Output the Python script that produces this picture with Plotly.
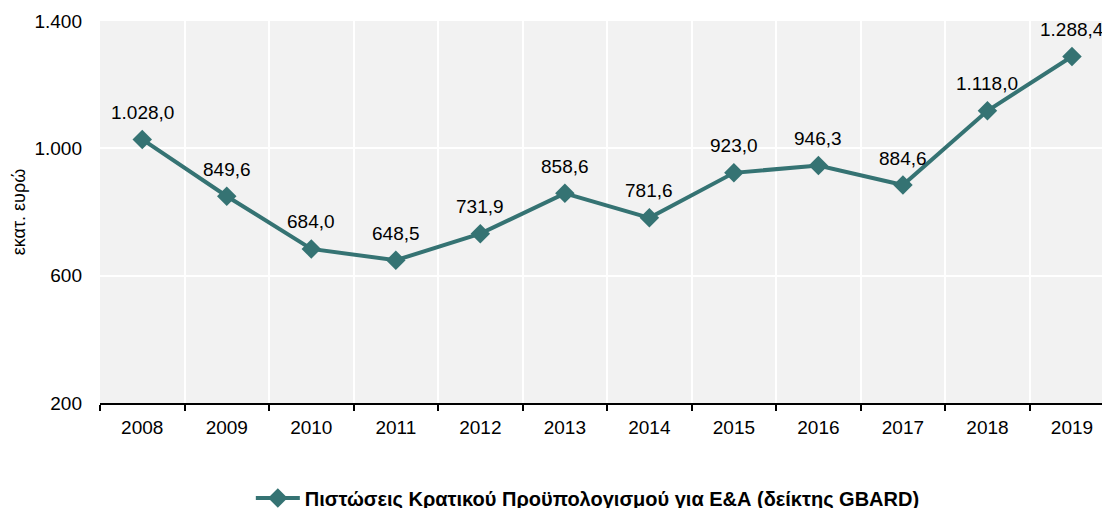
import plotly.graph_objects as go

years = ["2008", "2009", "2010", "2011", "2012", "2013", "2014", "2015", "2016", "2017", "2018", "2019"]
values = [1028.0, 849.6, 684.0, 648.5, 731.9, 858.6, 781.6, 923.0, 946.3, 884.6, 1118.0, 1288.4]
series_name = "Πιστώσεις Κρατικού Προϋπολογισμού για Ε&Α (δείκτης GBARD)"
y_title = "εκατ. ευρώ"

color = "#357373"
FONT = "Liberation Sans, Arial"


def fmt(v):
    s = f"{v:,.1f}"
    return s.replace(",", "X").replace(".", ",").replace("X", ".")


fig = go.Figure()
fig.add_trace(go.Scatter(
    x=years, y=values, name=series_name,
    mode="lines+markers",
    line=dict(color=color, width=4),
    marker=dict(symbol="diamond", size=15, color=color),
    cliponaxis=False,
))

for i, v in enumerate(values):
    fig.add_annotation(x=i, y=v, xref="x", yref="y", text=fmt(v),
                       showarrow=False, yshift=27,
                       font=dict(family=FONT, size=19, color="#000000"))

fig.update_layout(
    width=1102, height=540,
    margin=dict(l=92, r=0, t=13, b=145),
    paper_bgcolor="white",
    plot_bgcolor="#f2f2f2",
    separators=",.",
    font=dict(family=FONT, size=18, color="#000000"),
    showlegend=True,
    legend=dict(orientation="h", x=0.483, xanchor="center", y=-0.249, yanchor="middle",
                font=dict(size=20, family=FONT, weight="bold"),
                itemwidth=44),
)
fig.update_xaxes(
    type="category",
    range=[-0.5, 11.45],
    tickson="boundaries",
    ticks="outside", ticklen=6, tickcolor="#000000", tickwidth=1.5,
    showline=True, linecolor="#000000", linewidth=1.5,
    showgrid=True, gridcolor="white", gridwidth=2,
    ticklabelstandoff=6,
    tickfont=dict(size=19, family=FONT),
)
fig.update_yaxes(
    range=[200, 1400],
    tickvals=[200, 600, 1000, 1400],
    tickformat=",",
    showgrid=True, gridcolor="white", gridwidth=2,
    zeroline=False, showline=False,
    ticks="", ticklabelstandoff=17,
    tickfont=dict(size=19),
    title=dict(text=y_title, font=dict(size=18), standoff=4),
)

fig.write_html("out.html")
